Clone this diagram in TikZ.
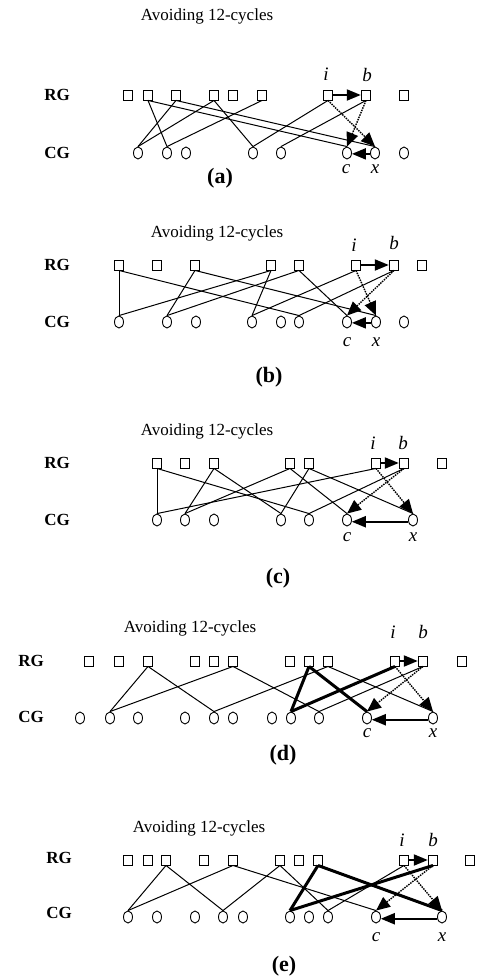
\documentclass[tikz,border=0pt]{standalone}
\usepackage{fontspec}
\setmainfont{Liberation Serif}
\usepackage{tikz}
\usetikzlibrary{arrows.meta,shapes.geometric}

\begin{document}
\begin{tikzpicture}[
        x=1pt, y=-1pt,
        rnode/.style={draw, line width=0.9pt, rectangle, inner sep=0pt, minimum width=9.5pt, minimum height=10pt},
        cnode/.style={draw, line width=0.9pt, ellipse, inner sep=0pt, minimum width=9pt, minimum height=12pt},
        link/.style={line width=1pt},
        heavy/.style={line width=3pt},
        move/.style={-{Triangle[length=14pt,width=11pt]}, line width=2pt},
        cand/.style={-{Triangle[length=14pt,width=12pt]}, line width=1.4pt, dash pattern=on 1.5pt off 1pt},
        ttl/.style={inner sep=0pt, font=\fontsize{17}{20}\selectfont},
        grp/.style={inner sep=0pt, font=\bfseries\fontsize{17}{20}\selectfont},
        lab/.style={inner sep=0pt, font=\itshape\fontsize{19}{22}\selectfont},
        capt/.style={inner sep=0pt, font=\bfseries\fontsize{22}{26}\selectfont}
    ]
    \useasboundingbox (0,0) rectangle (489,980);

    % (a)
    \node[ttl] (a-t) at (207,16) {Avoiding 12-cycles};
    \node[grp] (a-rg) at (57,95) {RG};
    \node[grp] (a-cg) at (57,153) {CG};
    \foreach \xx [count=\k] in {128,148,176,214,233,262,328,366,404}
        \node[rnode] (a-r\k) at (\xx,95) {};
    \foreach \xx [count=\k] in {138,167,186,253,281,347,375,404}
        \node[cnode] (a-c\k) at (\xx,153) {};
    \foreach \u/\v in {2/2,2/6,3/1,3/7,4/1,4/4,6/2,7/4,8/5}
        \draw[link] (a-r\u.south) -- (a-c\v.north);
    \draw[move] (a-r7) -- (a-r8);
    \draw[cand] (a-r7.south) -- (a-c7.north);
    \draw[cand] (a-r8.south) -- (a-c6.north);
    \draw[move] (a-c7.190) -- (a-c6.-10);
    \node[lab] (a-i) at (326,74) {i};
    \node[lab] (a-b) at (367,75) {b};
    \node[lab] (a-c) at (346,169) {c};
    \node[lab] (a-x) at (375,169) {x};
    \node[capt] (a-cap) at (220,178) {(a)};

    % (b)
    \node[ttl] (b-t) at (217,233) {Avoiding 12-cycles};
    \node[grp] (b-rg) at (57,265) {RG};
    \node[grp] (b-cg) at (57,322) {CG};
    \foreach \xx [count=\k] in {119,157,195,271,299,356,394,422}
        \node[rnode] (b-r\k) at (\xx,265) {};
    \foreach \xx [count=\k] in {119,167,196,252,281,299,347,376,404}
        \node[cnode] (b-c\k) at (\xx,322) {};
    \foreach \u/\v in {1/1,1/6,4/1,3/2,3/8,4/4,5/2,5/7,6/4,7/6}
        \draw[link] (b-r\u.south) -- (b-c\v.north);
    \draw[move] (b-r6) -- (b-r7);
    \draw[cand] (b-r6.south) -- (b-c8.north);
    \draw[cand] (b-r7.south) -- (b-c7.north);
    \draw[move] (b-c8.190) -- (b-c7.-10);
    \node[lab] (b-i) at (354,245) {i};
    \node[lab] (b-b) at (394,243) {b};
    \node[lab] (b-c) at (347,342) {c};
    \node[lab] (b-x) at (376,342) {x};
    \node[capt] (b-cap) at (269,377) {(b)};

    % (c)
    \node[ttl] (c-t) at (207,431) {Avoiding 12-cycles};
    \node[grp] (c-rg) at (57,463) {RG};
    \node[grp] (c-cg) at (57,520) {CG};
    \foreach \xx [count=\k] in {157,185,214,290,309,376,404,442}
        \node[rnode] (c-r\k) at (\xx,463) {};
    \foreach \xx [count=\k] in {157,185,214,281,309,347,413}
        \node[cnode] (c-c\k) at (\xx,520) {};
    \foreach \u/\v in {1/1,1/5,6/1,3/2,3/4,4/2,4/6,5/4,5/7,7/5}
        \draw[link] (c-r\u.south) -- (c-c\v.north);
    \draw[move] (c-r6) -- (c-r7);
    \draw[cand] (c-r6.south) -- (c-c7.north);
    \draw[cand] (c-r7.south) -- (c-c6.north);
    \draw[move] (c-c7.200) -- (c-c6.-20);
    \node[lab] (c-i) at (373,443) {i};
    \node[lab] (c-b) at (403,443) {b};
    \node[lab] (c-c) at (347,537) {c};
    \node[lab] (c-x) at (413,537) {x};
    \node[capt] (c-cap) at (278,578) {(c)};

    % (d)
    \node[ttl] (d-t) at (190,628) {Avoiding 12-cycles};
    \node[grp] (d-rg) at (31,661) {RG};
    \node[grp] (d-cg) at (31,717) {CG};
    \foreach \xx [count=\k] in {89,119,148,195,214,233,290,309,328,395,423,462}
        \node[rnode] (d-r\k) at (\xx,661) {};
    \foreach \xx [count=\k] in {80,110,138,185,214,233,272,291,319,367,433}
        \node[cnode] (d-c\k) at (\xx,718) {};
    \foreach \u/\v in {3/2,3/5,6/2,6/9,9/5,11/9,9/11}
        \draw[link] (d-r\u.south) -- (d-c\v.north);
    \foreach \u/\v in {8/8,8/10,10/8}
        \draw[heavy] (d-r\u.south) -- (d-c\v.north);
    \draw[move] (d-r10) -- (d-r11);
    \draw[cand] (d-r10.south) -- (d-c11.north);
    \draw[cand] (d-r11.south) -- (d-c10.north);
    \draw[move] (d-c11.200) -- (d-c10.-20);
    \node[lab] (d-i) at (393,632) {i};
    \node[lab] (d-b) at (423,632) {b};
    \node[lab] (d-c) at (367,733) {c};
    \node[lab] (d-x) at (433,733) {x};
    \node[capt] (d-cap) at (283,755) {(d)};

    % (e)
    \node[ttl] (e-t) at (199,828) {Avoiding 12-cycles};
    \node[grp] (e-rg) at (59,858) {RG};
    \node[grp] (e-cg) at (59,913) {CG};
    \foreach \xx [count=\k] in {128,148,166,204,233,280,299,318,404,433,470}
        \node[rnode] (e-r\k) at (\xx,860) {};
    \foreach \xx [count=\k] in {128,157,195,223,243,290,309,328,376,442}
        \node[cnode] (e-c\k) at (\xx,917) {};
    \foreach \u/\v in {3/1,3/4,5/1,6/4,6/8,5/9,9/8}
        \draw[link] (e-r\u.south) -- (e-c\v.north);
    \foreach \u/\v in {8/6,8/10,10/6}
        \draw[heavy] (e-r\u.south) -- (e-c\v.north);
    \draw[move] (e-r9) -- (e-r10);
    \draw[cand] (e-r9.south) -- (e-c10.north);
    \draw[cand] (e-r10.south) -- (e-c9.north);
    \draw[move] (e-c10.200) -- (e-c9.-20);
    \node[lab] (e-i) at (402,840) {i};
    \node[lab] (e-b) at (433,840) {b};
    \node[lab] (e-c) at (376,937) {c};
    \node[lab] (e-x) at (442,937) {x};
    \node[capt] (e-cap) at (284,966) {(e)};
\end{tikzpicture}
\end{document}
